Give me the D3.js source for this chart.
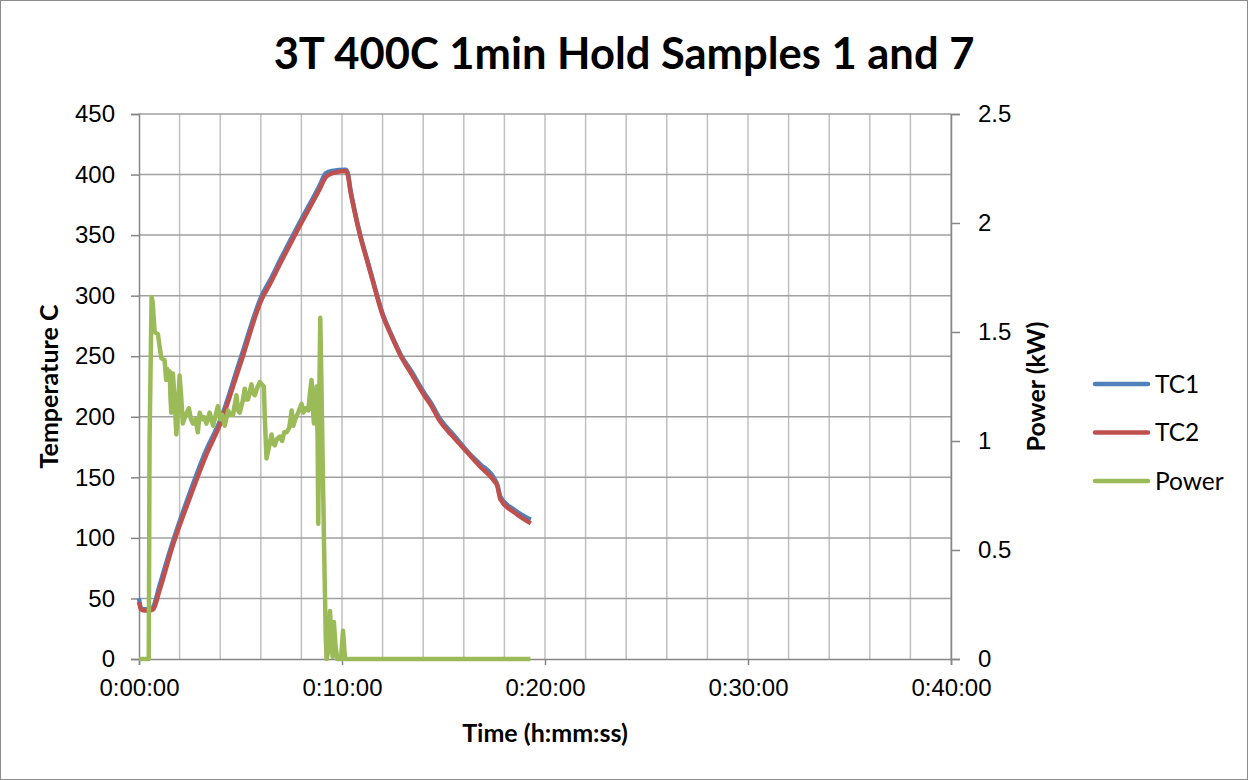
<!DOCTYPE html>
<html>
<head>
<meta charset="utf-8">
<script src="https://cdn.jsdelivr.net/npm/d3@7"></script>
<style>
  body { margin: 0; background: #fff; }
  svg { display: block; font-family: Lato, 'Open Sans', sans-serif; }
</style>
</head>
<body>
<svg id="chart"></svg>
<script>
// time in minutes
const tempTime = [0, 0.1, 0.3, 0.55, 0.7, 1.0, 1.67, 2.5, 3.3, 4.0, 5.0, 6.1, 6.4, 7.0, 7.9, 8.9, 9.2, 9.5, 10.2, 10.3, 10.4, 10.6, 10.9, 11.2, 11.5, 12.0, 12.4, 12.9, 13.4, 14.0, 14.4, 14.8, 15.5, 16.2, 16.8, 17.5, 17.65, 17.8, 18.5, 19.3];
const tc1 = [50, 42, 41, 41, 43, 60, 97, 137, 172, 197, 248, 302, 311, 331, 360, 391, 401, 403, 404, 400, 389, 372, 350, 332, 314, 285, 269, 251, 238, 221, 211, 199, 185, 171, 161, 149, 144, 134, 123, 115];
const tc2 = [47, 41, 40, 40, 41, 56, 94, 133, 168, 194, 244, 299, 308, 328, 357, 388, 398, 401, 403, 399, 388, 371, 349, 331, 313, 284, 268, 250, 236, 219, 209, 197, 183, 170, 159, 147, 143, 132, 121, 112];

const powerTime = [0, 0.48, 0.52, 0.62, 0.67, 0.77, 0.93, 1.02, 1.1, 1.26, 1.34, 1.39, 1.43, 1.51, 1.55, 1.59, 1.67, 1.75, 1.84, 1.92, 2.0, 2.08, 2.16, 2.3, 2.46, 2.56, 2.66, 2.78, 2.9, 2.99, 3.1, 3.2, 3.32, 3.48, 3.56, 3.65, 3.78, 3.89, 4.0, 4.1, 4.22, 4.39, 4.5, 4.63, 4.8, 4.88, 4.96, 5.1, 5.21, 5.3, 5.37, 5.54, 5.62, 5.7, 5.85, 5.95, 6.05, 6.15, 6.2, 6.28, 6.4, 6.53, 6.6, 6.69, 6.8, 6.94, 7.05, 7.15, 7.27, 7.4, 7.52, 7.6, 7.7, 7.84, 8.01, 8.1, 8.2, 8.34, 8.42, 8.5, 8.56, 8.62, 8.7, 8.75, 8.8, 8.83, 8.88, 8.93, 8.98, 9.05, 9.12, 9.2, 9.24, 9.35, 9.41, 9.48, 9.54, 9.6, 9.68, 9.77, 9.95, 10.05, 10.15, 19.28];
const power = [0, 0, 1.0, 1.66, 1.64, 1.50, 1.49, 1.43, 1.38, 1.37, 1.28, 1.33, 1.30, 1.32, 1.20, 1.13, 1.31, 1.20, 1.03, 1.15, 1.30, 1.20, 1.08, 1.12, 1.15, 1.10, 1.08, 1.10, 1.04, 1.13, 1.10, 1.11, 1.08, 1.13, 1.10, 1.07, 1.12, 1.16, 1.10, 1.12, 1.07, 1.14, 1.12, 1.12, 1.21, 1.14, 1.13, 1.18, 1.24, 1.19, 1.19, 1.26, 1.22, 1.21, 1.25, 1.27, 1.26, 1.25, 1.10, 0.92, 0.97, 1.03, 0.99, 0.98, 1.01, 1.02, 1.00, 1.04, 1.04, 1.06, 1.14, 1.07, 1.10, 1.13, 1.17, 1.13, 1.15, 1.14, 1.22, 1.28, 1.15, 1.08, 1.18, 1.25, 1.0, 0.62, 1.2, 1.565, 1.30, 0.90, 0.50, 0.10, 0, 0.05, 0.22, 0.08, 0.01, 0.17, 0.06, 0, 0, 0.13, 0, 0];

const tempTicks = [0, 50, 100, 150, 200, 250, 300, 350, 400, 450];
const powerTicks = [0, 0.5, 1, 1.5, 2, 2.5];
const timeLabels = [0, 10, 20, 30, 40];
const seriesNames = ['TC1', 'TC2', 'Power'];
const colors = ['#4f81bd', '#c0504d', '#9bbb59'];

const W = 1249, H = 780;
const margin = { top: 114, right: 298, bottom: 121, left: 139 };
const width = W - margin.left - margin.right;
const height = H - margin.top - margin.bottom;

const svg = d3.select('#chart').attr('width', W).attr('height', H);

svg.append('rect')
  .attr('x', 0.5).attr('y', 0.5)
  .attr('width', W - 2).attr('height', H - 1)
  .attr('fill', '#fff')
  .attr('stroke', '#8c8c8c');

const g = svg.append('g').attr('transform', `translate(${margin.left},${margin.top})`);

const x = d3.scaleLinear().domain([0, 40]).range([0, width]);
const y = d3.scaleLinear().domain([0, 450]).range([height, 0]);
const y2 = d3.scaleLinear().domain([0, 2.5]).range([height, 0]);

const fmtTime = m => {
  const s = Math.round(m * 60);
  return `${Math.floor(s / 3600)}:${String(Math.floor(s / 60) % 60).padStart(2, '0')}:${String(s % 60).padStart(2, '0')}`;
};

// gridlines
g.append('g')
  .selectAll('line')
  .data(d3.range(2, 41, 2))
  .enter()
  .append('line')
  .attr('x1', d => x(d)).attr('x2', d => x(d))
  .attr('y1', 0).attr('y2', height)
  .attr('stroke', '#c0c0c0')
  .attr('stroke-width', 1.5);

g.append('g')
  .selectAll('line')
  .data(tempTicks.slice(1))
  .enter()
  .append('line')
  .attr('x1', 0).attr('x2', width)
  .attr('y1', d => y(d)).attr('y2', d => y(d))
  .attr('stroke', '#a0a0a0')
  .attr('stroke-width', 1.5);

// axes
const styleAxis = sel => {
  sel.select('.domain').attr('stroke', '#868686').attr('stroke-width', 1.5);
  sel.selectAll('.tick line').attr('stroke', '#868686').attr('stroke-width', 1.5);
  sel.selectAll('.tick text').attr('fill', '#000').style('font-size', '24px');
};

g.append('g')
  .attr('transform', `translate(0,${height})`)
  .call(d3.axisBottom(x).tickValues(timeLabels).tickFormat(fmtTime).tickSizeOuter(0).tickSize(6).tickPadding(14))
  .call(styleAxis);

g.append('g')
  .call(d3.axisLeft(y).tickValues(tempTicks).tickSizeOuter(0).tickSize(8).tickPadding(16))
  .call(styleAxis);

g.append('g')
  .attr('transform', `translate(${width},0)`)
  .call(d3.axisRight(y2).tickValues(powerTicks).tickFormat(d3.format('')).tickSizeOuter(0).tickSize(9).tickPadding(18))
  .call(styleAxis);

// lines
const tempLine = vals => d3.line()
  .curve(d3.curveMonotoneX)
  .x((d, i) => x(tempTime[i]))
  .y(d => y(d))(vals);

g.append('path')
  .attr('d', tempLine(tc1))
  .attr('fill', 'none')
  .attr('stroke', colors[0])
  .attr('stroke-width', 4.5)
  .attr('stroke-linejoin', 'round');

g.append('path')
  .attr('d', tempLine(tc2))
  .attr('fill', 'none')
  .attr('stroke', colors[1])
  .attr('stroke-width', 4.5)
  .attr('stroke-linejoin', 'round');

g.append('path')
  .attr('d', d3.line().x((d, i) => x(powerTime[i])).y(d => y2(d))(power))
  .attr('fill', 'none')
  .attr('stroke', colors[2])
  .attr('stroke-width', 4.5)
  .attr('stroke-linejoin', 'round');

// titles
svg.append('text')
  .attr('x', 624).attr('y', 69)
  .attr('text-anchor', 'middle')
  .style('font-size', '43.5px')
  .style('font-weight', 'bold')
  .text('3T 400C 1min Hold Samples 1 and 7');

svg.append('text')
  .attr('x', margin.left + width / 2).attr('y', 742)
  .attr('text-anchor', 'middle')
  .style('font-size', '25px')
  .style('font-weight', 'bold')
  .text('Time (h:mm:ss)');

svg.append('text')
  .attr('transform', `translate(58,${margin.top + height / 2}) rotate(-90)`)
  .attr('text-anchor', 'middle')
  .style('font-size', '25px')
  .style('font-weight', 'bold')
  .text('Temperature C');

svg.append('text')
  .attr('transform', `translate(1045,${margin.top + height / 2}) rotate(-90)`)
  .attr('text-anchor', 'middle')
  .style('font-size', '25px')
  .style('font-weight', 'bold')
  .text('Power (kW)');

// legend
const legend = svg.append('g').attr('transform', 'translate(1095,384)');

legend.selectAll('line')
  .data(seriesNames)
  .enter()
  .append('line')
  .attr('x1', 0).attr('x2', 53)
  .attr('y1', (d, i) => i * 48.5).attr('y2', (d, i) => i * 48.5)
  .attr('stroke', (d, i) => colors[i])
  .attr('stroke-width', 4.5)
  .attr('stroke-linecap', 'round');

legend.selectAll('text')
  .data(seriesNames)
  .enter()
  .append('text')
  .attr('x', 60)
  .attr('y', (d, i) => i * 48.5 + 8.5)
  .style('font-size', '24.5px')
  .text(d => d);
</script>
</body>
</html>
